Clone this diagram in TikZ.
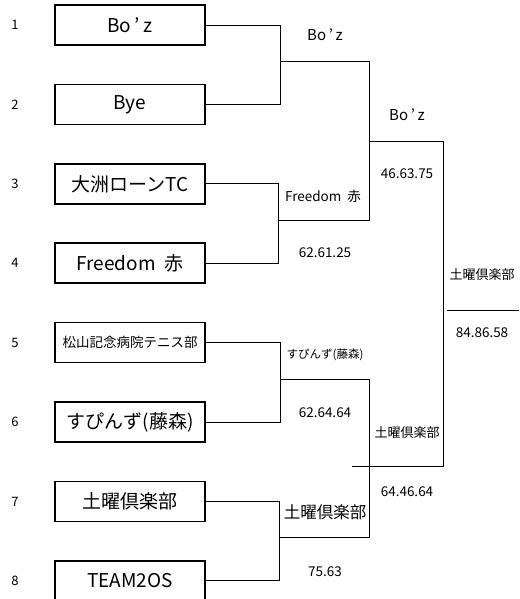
\documentclass[tikz,border=0pt]{standalone}
\usepackage{fontspec}
\setmainfont{Noto Sans CJK JP}
\usepackage{tikz}
\usetikzlibrary{positioning}
\newcommand{\boz}{Bo\hspace{0.18em}’\hspace{0.18em}z}
\tikzset{team box/.style={draw,line width=1.6pt,minimum width=150pt,minimum height=40pt,inner sep=0pt,outer sep=0pt,font=\fontsize{19}{19}\selectfont},
  seed/.style={font=\fontsize{13}{13}\selectfont},
  winner/.style={font=\fontsize{15}{15}\selectfont},
  score/.style={font=\fontsize{13.5}{13.5}\selectfont},
  bracket/.style={draw,line width=0.8pt}}

\begin{document}
\begin{tikzpicture}[x=1pt, y=-1pt, node distance=39.4pt]
	\useasboundingbox (0,0) rectangle (519,599);
	% teams
	\node[team box] (t1) at (130,25) {\boz};
	\node[team box] (t2) [below = of t1] {Bye};
	\node[team box] (t3) [below = of t2] {大洲ローンTC};
	\node[team box] (t4) [below = of t3] {Freedom\ \ 赤};
	\node[team box, font=\fontsize{13.5}{13.5}\selectfont] (t5) [below = of t4] {松山記念病院テニス部};
	\node[team box] (t6) [below = of t5] {すぴんず(藤森)};
	\node[team box] (t7) [below = of t6] {土曜倶楽部};
	\node[team box] (t8) [below = of t7] {TEAM2OS};

	% seed numbers
	\node[seed] (n1) at (15,25) {1};
	\node[seed] (n2) at (n1 |- t2) {2};
	\node[seed] (n3) at (n1 |- t3) {3};
	\node[seed] (n4) at (n1 |- t4) {4};
	\node[seed] (n5) at (n1 |- t5) {5};
	\node[seed] (n6) at (n1 |- t6) {6};
	\node[seed] (n7) at (n1 |- t7) {7};
	\node[seed] (n8) at (n1 |- t8) {8};

	% bracket joints
	\coordinate (q1) at (280,61);
	\coordinate (q2) at (278,220);
	\coordinate (q3) at (280,379);
	\coordinate (q4) at (279,537);
	\coordinate (s1) at (369,141);
	\coordinate (s2) at (369,466);
	\coordinate (s2l) at (352,466);
	\coordinate (f) at (443,310);
	\coordinate (fa) at (447,310);
	\coordinate (fb) at (519,310);

	\path[bracket]
	(t1.east) -| (q1) (t2.east) -| (q1)
	(t3.east) -| (q2) (t4.east) -| (q2)
	(t5.east) -| (q3) (t6.east) -| (q3)
	(t7.east) -| (q4) (t8.east) -| (q4)
	(q1) -| (s1) (q2) -| (s1)
	(q3) -| (s2) (q4) -| (s2)
	(s1) -| (f) (s2l) -| (f)
	(fa) -- (fb);

	% results
	\node[winner] (w1) at (325,35) {\boz};
	\node[winner, font=\fontsize{13.5}{13.5}\selectfont] (w2) at (323,196) {Freedom\ \ 赤};
	\node[score] (p2) at (325,253) {62.61.25};
	\node[winner] (w5) at (407,115) {\boz};
	\node[score] (p5) at (407,174) {46.63.75};
	\node[winner, font=\fontsize{11.5}{11.5}\selectfont] (w3) at (325,355) {すぴんず(藤森)};
	\node[score] (p3) at (325,413) {62.64.64};
	\node[winner, font=\fontsize{16.5}{16.5}\selectfont] (w4) at (325,512) {土曜倶楽部};
	\node[score] (p4) at (325,572) {75.63};
	\node[winner, font=\fontsize{13}{13}\selectfont] (w6) at (407,433) {土曜倶楽部};
	\node[score] (p6) at (407,492) {64.46.64};
	\node[winner, font=\fontsize{13}{13}\selectfont] (w7) at (482,275) {土曜倶楽部};
	\node[score] (p7) at (482,333) {84.86.58};
\end{tikzpicture}
\end{document}
